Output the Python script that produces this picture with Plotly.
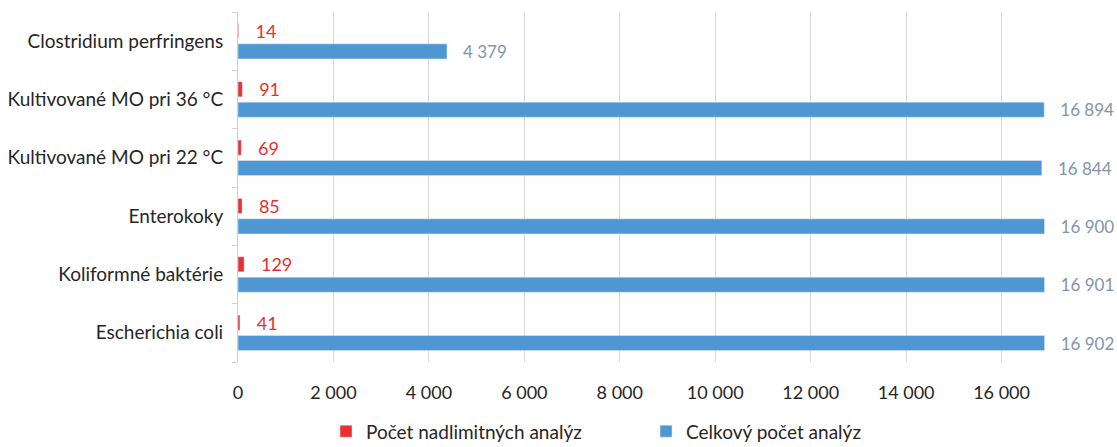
import plotly.graph_objects as go

categories = [
    "Escherichia coli",
    "Koliformné baktérie",
    "Enterokoky",
    "Kultivované MO pri 22 °C",
    "Kultivované MO pri 36 °C",
    "Clostridium perfringens",
]
nadlimitne = [41, 129, 85, 69, 91, 14]
celkovo = [16902, 16901, 16900, 16844, 16894, 4379]

x_ticks = [0, 2000, 4000, 6000, 8000, 10000, 12000, 14000, 16000, 18000]


def fmt(v):
    return f"{v:,}".replace(",", " ")


tick_text = [fmt(v) for v in x_ticks[:-1]] + [""]

RED = "#e8302f"
BLUE = "#4f97d2"
FONT = "Lato, 'Open Sans', sans-serif"

fig = go.Figure()
fig.add_trace(go.Bar(
    y=categories, x=celkovo, orientation="h",
    name="Celkový počet analýz", legendrank=2,
    marker=dict(color=BLUE),
    text=["   " + fmt(v) for v in celkovo], textposition="outside",
    constraintext="none",
    textfont=dict(color="#8295ac", size=17, family=FONT),
    cliponaxis=False,
))
fig.add_trace(go.Bar(
    y=categories, x=nadlimitne, orientation="h",
    name="Počet nadlimitných analýz", legendrank=1,
    marker=dict(color=RED),
    text=["   " + fmt(v) for v in nadlimitne], textposition="outside",
    constraintext="none",
    textfont=dict(color=RED, size=18, family=FONT),
    cliponaxis=False,
))

fig.update_layout(
    width=1117, height=447,
    margin=dict(l=238, r=20, t=12, b=85),
    paper_bgcolor="white", plot_bgcolor="white",
    barmode="group", bargap=0.30, bargroupgap=0.26,
    font=dict(family=FONT, size=18, color="#262626"),
    showlegend=True,
    legend=dict(
        orientation="h", x=0.475, xanchor="center",
        yref="container", y=0.035, yanchor="middle",
        font=dict(size=19, color="#262626"),
        entrywidth=275, itemwidth=30,
        traceorder="normal",
    ),
    xaxis=dict(
        range=[0, 18000], tickvals=x_ticks, ticktext=tick_text,
        showgrid=True, gridcolor="#d9d9d9", gridwidth=1,
        zeroline=False, showline=False, automargin=False,
        tickfont=dict(size=18, color="#262626"),
        ticks="", ticklabelstandoff=18,
    ),
    yaxis=dict(
        showline=True, linecolor="#d0d0d0", linewidth=1, automargin=False,
        ticks="outside", tickson="boundaries", ticklen=5, tickcolor="#d0d0d0",
        tickfont=dict(size=19, color="#262626"),
        ticklabelstandoff=10,
        showgrid=False,
    ),
)

fig.write_html("out.html")
